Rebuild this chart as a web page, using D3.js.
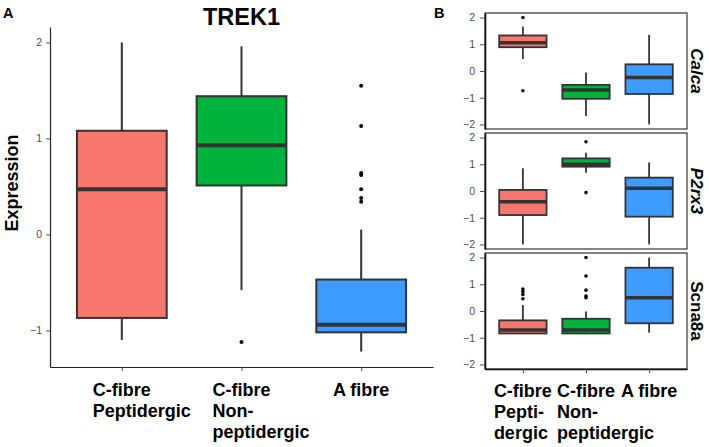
<!DOCTYPE html>
<html>
<head>
<meta charset="utf-8">
<script src="https://cdn.jsdelivr.net/npm/d3@7"></script>
<style>
  body { margin: 0; background: #fff; }
  svg { font-family: "Liberation Sans", Arial, Helvetica, sans-serif; }
  .axis .tick text { fill: #4d4d4d; font-size: 10.5px; }
  .axis .tick line { stroke: #4d4d4d; }
  .xlab { font-size: 18px; font-weight: bold; fill: #000; }
</style>
</head>
<body>
<svg id="chart" width="709" height="447"></svg>
<script>
// data
const categories = ['C-fibre Peptidergic', 'C-fibre Non-peptidergic', 'A fibre'];
const labelsA = [['C-fibre', 'Peptidergic'], ['C-fibre', 'Non-', 'peptidergic'], ['A fibre']];
const labelsB = [['C-fibre', 'Pepti-', 'dergic'], ['C-fibre', 'Non-', 'peptidergic'], ['A fibre']];
const colours = ['#f8766d', '#00b33c', '#3e9bff'];

// box stats: lower whisker, q1, median, q3, upper whisker, outliers
const trek1 = [
  { lo: -1.10, q1: -0.87, med: 0.47, q3: 1.08, hi: 2.00, out: [] },
  { lo: -0.58, q1: 0.51, med: 0.93, q3: 1.44, hi: 1.96, out: [-1.12] },
  { lo: -1.22, q1: -1.02, med: -0.94, q3: -0.47, hi: 0.05, out: [1.55, 1.13, 0.64, 0.62, 0.47, 0.38, 0.34] }
];

const genes = ['Calca', 'P2rx3', 'Scna8a'];
const geneItalic = [true, true, false];
const calca = [
  { lo: 0.45, q1: 0.89, med: 1.06, q3: 1.33, hi: 1.66, out: [2.0, -0.74] },
  { lo: -1.68, q1: -1.04, med: -0.71, q3: -0.52, hi: -0.06, out: [] },
  { lo: -2.0, q1: -0.86, med: -0.24, q3: 0.25, hi: 1.35, out: [] }
];
const p2rx3 = [
  { lo: -2.0, q1: -0.90, med: -0.40, q3: 0.04, hi: 0.85, out: [] },
  { lo: 0.68, q1: 0.91, med: 1.00, q3: 1.22, hi: 1.43, out: [1.84, -0.06] },
  { lo: -2.0, q1: -0.96, med: 0.10, q3: 0.50, hi: 1.07, out: [] }
];
const scna8a = [
  { lo: -0.84, q1: -0.84, med: -0.71, q3: -0.35, hi: 0.22, out: [0.82, 0.73, 0.62, 0.46] },
  { lo: -0.87, q1: -0.84, med: -0.71, q3: -0.29, hi: -0.02, out: [2.0, 1.31, 0.78, 0.56, 0.50] },
  { lo: -0.81, q1: -0.46, med: 0.50, q3: 1.62, hi: 2.0, out: [] }
];
const geneStats = [calca, p2rx3, scna8a];

const yTicksA = [-1, 0, 1, 2];
const yTicksB = [-2, -1, 0, 1, 2];

const svg = d3.select('#chart');
const fmt = d3.format('d');

function drawBoxes(g, stats, x, y, bw, lw, medW, r) {
  const box = g.selectAll('g.box').data(stats).enter().append('g')
    .attr('class', 'box')
    .attr('transform', (d, i) => 'translate(' + x(categories[i]) + ',0)');

  box.append('line').attr('y1', d => y(d.hi)).attr('y2', d => y(d.q3))
    .attr('stroke', '#333').attr('stroke-width', lw);
  box.append('line').attr('y1', d => y(d.q1)).attr('y2', d => y(d.lo))
    .attr('stroke', '#333').attr('stroke-width', lw);
  box.append('rect')
    .attr('x', -bw / 2).attr('width', bw)
    .attr('y', d => y(d.q3)).attr('height', d => y(d.q1) - y(d.q3))
    .attr('fill', (d, i) => colours[i])
    .attr('stroke', '#333').attr('stroke-width', lw);
  box.append('line')
    .attr('x1', -bw / 2).attr('x2', bw / 2)
    .attr('y1', d => y(d.med)).attr('y2', d => y(d.med))
    .attr('stroke', '#333').attr('stroke-width', medW);
  box.selectAll('circle').data(d => d.out).enter().append('circle')
    .attr('r', r).attr('cy', v => y(v)).attr('fill', '#000');
}

function drawXLabels(g, labels, x, top) {
  labels.forEach((lines, i) => {
    const t = g.append('text').attr('class', 'xlab').attr('y', top);
    lines.forEach((s, k) => {
      t.append('tspan').attr('dy', k ? 21 : 0).text(s);
    });
    const first = t.select('tspan').node().getComputedTextLength();
    const left = x(categories[i]) - first / 2;
    t.selectAll('tspan').attr('x', left);
  });
}

// ---- panel A ----
const A = { left: 50, right: 433, top: 27, bottom: 367 };
const allA = trek1.flatMap(d => [d.lo, d.hi, ...d.out]);
const extA = d3.extent(allA);
const padA = (extA[1] - extA[0]) * 0.05;
const xA = d3.scalePoint().domain(categories).range([A.left, A.right]).padding(0.6);
const yA = d3.scaleLinear().domain([extA[0] - padA, extA[1] + padA]).range([A.bottom, A.top]);

const gA = svg.append('g');
drawBoxes(gA, trek1, xA, yA, xA.step() * 0.75, 2, 4, 2);

gA.append('g').attr('class', 'axis')
  .attr('transform', 'translate(' + A.left + ',0)')
  .call(d3.axisLeft(yA).tickValues(yTicksA).tickFormat(fmt)
    .tickSize(4).tickPadding(4).tickSizeOuter(0));
gA.append('g').attr('class', 'axis')
  .attr('transform', 'translate(0,' + A.bottom + ')')
  .call(d3.axisBottom(xA).tickSize(4).tickSizeOuter(0).tickFormat(''));
gA.selectAll('.axis .domain').attr('stroke', '#222').attr('stroke-width', 1.2);

drawXLabels(gA, labelsA, xA, 395.5);

gA.append('text').attr('transform', 'translate(18,183) rotate(-90)')
  .attr('text-anchor', 'middle').attr('font-size', 18).attr('font-weight', 'bold')
  .text('Expression');
gA.append('text').attr('x', 241.5).attr('y', 25).attr('text-anchor', 'middle')
  .attr('font-size', 23.5).attr('font-weight', 'bold').text('TREK1');
svg.append('text').attr('x', 3).attr('y', 17.5).attr('font-size', 14.5)
  .attr('font-weight', 'bold').text('A');

// ---- panel B ----
svg.append('text').attr('x', 434).attr('y', 17.5).attr('font-size', 14.5)
  .attr('font-weight', 'bold').text('B');

const B = { left: 485, right: 687, top: 13, h: 116, gap: 4 };
const xB = d3.scalePoint().domain(categories).range([B.left, B.right]).padding(0.6);

genes.forEach((gene, gi) => {
  const top = B.top + gi * (B.h + B.gap);
  const yB = d3.scaleLinear().domain([-2.17, 2.17]).range([top + B.h, top]);
  const g = svg.append('g');

  g.append('rect').attr('x', B.left).attr('y', top)
    .attr('width', B.right - B.left).attr('height', B.h)
    .attr('fill', 'none').attr('stroke', '#333').attr('stroke-width', 1.2);

  drawBoxes(g, geneStats[gi], xB, yB, xB.step() * 0.75, 1.8, 3.5, 1.8);

  g.append('g').attr('class', 'axis')
    .attr('transform', 'translate(' + B.left + ',0)')
    .call(d3.axisLeft(yB).tickValues(yTicksB).tickFormat(fmt)
      .tickSize(5).tickPadding(5).tickSizeOuter(0))
    .select('.domain').attr('stroke', '#111').attr('stroke-width', 1.6);

  g.append('text')
    .attr('transform', 'translate(691,' + (top + B.h / 2) + ') rotate(90)')
    .attr('text-anchor', 'middle').attr('font-size', 17).attr('font-weight', 'bold')
    .attr('font-style', geneItalic[gi] ? 'italic' : 'normal')
    .text(gene);

  if (gi === genes.length - 1) {
    const ax = g.append('g').attr('class', 'axis')
      .attr('transform', 'translate(0,' + (top + B.h) + ')')
      .call(d3.axisBottom(xB).tickSize(4).tickSizeOuter(0).tickFormat(''));
    ax.select('.domain').attr('stroke', '#111').attr('stroke-width', 1.6);
    drawXLabels(g, labelsB, xB, 396.5);
  }
});
</script>
</body>
</html>
